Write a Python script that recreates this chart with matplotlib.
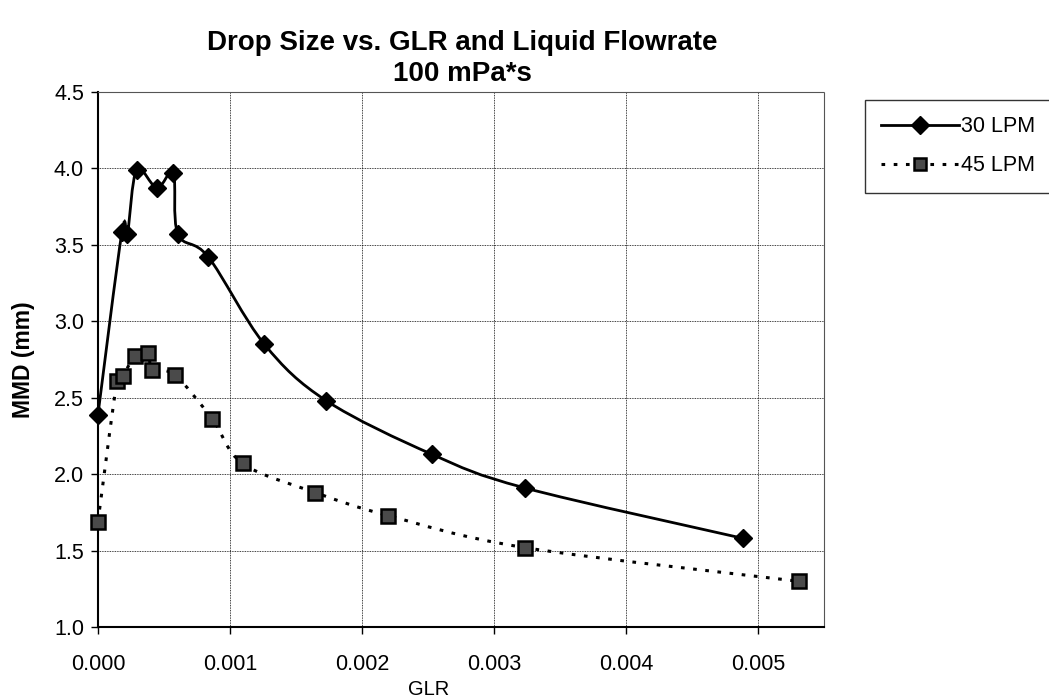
import matplotlib.pyplot as plt
from matplotlib.path import Path
from matplotlib.patches import PathPatch
import numpy as np

plt.rcParams['font.family'] = ['Liberation Sans', 'DejaVu Sans']

glr_30 = [0.0, 0.000181, 0.000223, 0.000293, 0.000447, 0.000571, 0.000605,
          0.000836, 0.00126, 0.00173, 0.00253, 0.003235, 0.00489]
mmd_30 = [2.39, 3.58, 3.57, 3.99, 3.87, 3.97, 3.57, 3.42, 2.85, 2.48, 2.13, 1.91, 1.58]

glr_45 = [0.0, 0.000144, 0.000186, 0.00028, 0.00038, 0.000412, 0.00058,
          0.000866, 0.001096, 0.001647, 0.002196, 0.003236, 0.00531]
mmd_45 = [1.69, 2.61, 2.64, 2.77, 2.79, 2.68, 2.65, 2.36, 2.07, 1.88, 1.73, 1.52, 1.30]

labels = ["30 LPM", "45 LPM"]


def smooth_path(xs, ys, ax):
    # Excel-style smoothed line: cubic bezier segments through the points,
    # control points built in display space so both axes weigh the same
    pts = ax.transData.transform(np.column_stack([xs, ys]))
    n = len(pts)
    verts = [pts[0]]
    codes = [Path.MOVETO]
    for i in range(n - 1):
        p0 = pts[i - 1] if i > 0 else pts[i]
        p1 = pts[i]
        p2 = pts[i + 1]
        p3 = pts[i + 2] if i + 2 < n else pts[i + 1]
        c1 = p1 + (p2 - p0) / 6.0
        c2 = p2 - (p3 - p1) / 6.0
        verts += [c1, c2, p2]
        codes += [Path.CURVE4] * 3
    verts = ax.transData.inverted().transform(np.array(verts))
    return Path(verts, codes)


fig = plt.figure(figsize=(10.49, 7.0), dpi=100)
ax = fig.add_axes([0.0934, 0.104, 0.6921, 0.765])

ax.set_xlim(0, 0.0055)
ax.set_ylim(1.0, 4.5)
ax.set_xticks(np.arange(0, 0.0051, 0.001))
ax.set_yticks(np.arange(1.0, 4.51, 0.5))
ax.set_xticklabels(["%.3f" % t for t in np.arange(0, 0.0051, 0.001)])
ax.set_yticklabels(["%.1f" % t for t in np.arange(1.0, 4.51, 0.5)])

# curves
p30 = smooth_path(glr_30, mmd_30, ax)
ax.add_patch(PathPatch(p30, facecolor='none', edgecolor='black', lw=2.0, zorder=3))
p45 = smooth_path(glr_45, mmd_45, ax)
ax.add_patch(PathPatch(p45, facecolor='none', edgecolor='black', lw=2.2,
                       linestyle=(0, (1.2, 2.8)), zorder=3))

# markers
ax.plot(glr_30, mmd_30, linestyle='none', marker='D', ms=9.5, mfc='black',
        mec='black', zorder=4, clip_on=False)
ax.plot(glr_45, mmd_45, linestyle='none', marker='s', ms=10, mfc='#4a4a4a',
        mec='black', mew=1.8, zorder=4, clip_on=False)

# legend handles
h30, = ax.plot([], [], color='black', lw=2.0, marker='D', ms=9, mfc='black')
h45, = ax.plot([], [], color='black', lw=2.2, linestyle=(0, (1.2, 2.8)),
               marker='s', ms=9, mfc='#4a4a4a', mec='black', mew=1.8)
leg = fig.legend([h30, h45], labels, loc='upper left',
                 bbox_to_anchor=(865 / 1049, 1 - 100 / 700), frameon=True,
                 fancybox=False, edgecolor='black', fontsize=15.5,
                 handlelength=3.6, handletextpad=0.1, borderpad=0.75,
                 labelspacing=0.85, borderaxespad=0)
leg.get_frame().set_linewidth(1.0)

# grid
ax.grid(True, color='black', linestyle=(0, (1, 1)), linewidth=0.6)
ax.set_axisbelow(True)

for s in ['top', 'right']:
    ax.spines[s].set_linestyle((0, (1, 1)))
    ax.spines[s].set_color('#555555')
    ax.spines[s].set_linewidth(0.8)
for s in ['left', 'bottom']:
    ax.spines[s].set_linewidth(1.5)
    ax.spines[s].set_color('black')

ax.tick_params(direction='out', length=5, width=1, labelsize=15.5, pad=5)
ax.tick_params(axis='x', pad=14)

ax.set_ylabel('MMD (mm)', fontsize=16.5, fontweight='bold', labelpad=14)
ax.set_xlabel('GLR', fontsize=14.5)
ax.xaxis.set_label_coords(0.455, -0.098)

fig.text(0.441, 0.939, 'Drop Size vs. GLR and Liquid Flowrate', ha='center',
         va='center', fontsize=20, fontweight='bold')
fig.text(0.441, 0.894, '100 mPa*s', ha='center', va='center', fontsize=20,
         fontweight='bold')

fig.savefig('out.png', dpi=100)
